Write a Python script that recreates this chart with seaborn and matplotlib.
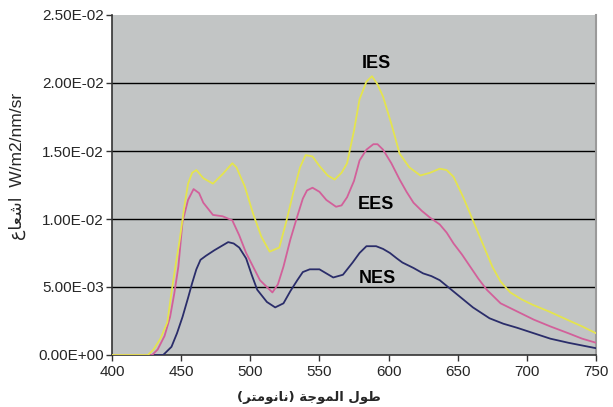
import numpy as np
import pandas as pd
import seaborn as sns
import matplotlib
matplotlib.use("Agg")
import matplotlib.pyplot as plt
from matplotlib.ticker import FuncFormatter

# Spectral radiance of three light sources (W/m2/nm/sr) against wavelength (nm)
ies_nm = [400, 426, 430, 435, 440, 443, 446, 449, 452, 455, 458, 461, 466, 473, 480, 487, 490,
          496, 502, 508, 514, 521, 526, 531, 536, 540, 545, 550, 556, 561, 566, 570, 575, 579,
          584, 588, 592, 596, 602, 608, 615, 623, 630, 637, 642, 647, 654, 661, 668, 675, 681,
          688, 696, 704, 716, 729, 740, 750]
ies_val = [0.0, 0.0, 0.0004, 0.0012, 0.0024, 0.0046, 0.0066, 0.0085, 0.0107, 0.0126, 0.0134,
           0.0136, 0.0130, 0.0126, 0.0133, 0.0141, 0.0138, 0.0124, 0.0104, 0.0087, 0.0076,
           0.0079, 0.0098, 0.0119, 0.0138, 0.0147, 0.0146, 0.0139, 0.0132, 0.0129, 0.0134,
           0.0141, 0.0165, 0.0188, 0.0201, 0.0205, 0.0199, 0.0190, 0.0170, 0.0148, 0.0138,
           0.0132, 0.0134, 0.0137, 0.0136, 0.0131, 0.0116, 0.0099, 0.0082, 0.0065, 0.0054,
           0.0046, 0.0041, 0.0037, 0.0032, 0.0026, 0.0021, 0.0016]

ees_nm = [400, 429, 433, 438, 442, 445, 448, 451, 455, 459, 463, 466, 473, 480, 487, 492, 497,
          502, 507, 512, 516, 520, 524, 529, 534, 538, 541, 545, 550, 555, 562, 566, 570, 575,
          579, 584, 589, 592, 596, 602, 608, 613, 618, 624, 630, 637, 642, 647, 653, 659, 665,
          671, 681, 695, 705, 717, 730, 740, 750]
ees_val = [0.0, 0.0, 0.0004, 0.0014, 0.0028, 0.0045, 0.0065, 0.0098, 0.0114, 0.0122, 0.0119,
           0.0112, 0.0103, 0.0102, 0.0099, 0.0088, 0.0075, 0.0065, 0.0055, 0.0050, 0.0046,
           0.0052, 0.0065, 0.0085, 0.0102, 0.0115, 0.0121, 0.0123, 0.0120, 0.0114, 0.0109,
           0.0110, 0.0116, 0.0128, 0.0143, 0.0151, 0.0155, 0.0155, 0.0151, 0.0141, 0.0129,
           0.0120, 0.0112, 0.0106, 0.0101, 0.0096, 0.0090, 0.0082, 0.0074, 0.0065, 0.0056,
           0.0048, 0.0038, 0.0031, 0.0026, 0.0021, 0.0016, 0.0012, 0.0009]

nes_nm = [400, 437, 443, 447, 451, 455, 458, 461, 464, 468, 474, 479, 484, 488, 492, 497, 501,
          505, 512, 518, 524, 529, 534, 538, 543, 550, 555, 560, 567, 574, 579, 584, 591, 596,
          601, 606, 610, 618, 625, 631, 637, 643, 649, 655, 661, 667, 673, 683, 693, 705, 717,
          730, 740, 750]
nes_val = [0.0, 0.0, 0.0006, 0.0016, 0.0028, 0.0042, 0.0053, 0.0063, 0.0070, 0.0073, 0.0077,
           0.0080, 0.0083, 0.0082, 0.0079, 0.0071, 0.0059, 0.0048, 0.0039, 0.0035, 0.0038,
           0.0047, 0.0055, 0.0061, 0.0063, 0.0063, 0.0060, 0.0057, 0.0059, 0.0068, 0.0075,
           0.0080, 0.0080, 0.0078, 0.0075, 0.0071, 0.0068, 0.0064, 0.0060, 0.0058, 0.0055,
           0.0050, 0.0045, 0.0040, 0.0035, 0.0031, 0.0027, 0.0023, 0.0020, 0.0016, 0.0012,
           0.0009, 0.0007, 0.0005]

series_names = ["IES", "EES", "NES"]
series_colors = ["#e4e44e", "#d2609a", "#2a2d6a"]
label_pos = [(591, 0.0214), (591, 0.0111), (592, 0.0056)]

x_ticks = [400, 450, 500, 550, 600, 650, 700, 750]
y_ticks = [0.0, 0.005, 0.010, 0.015, 0.020, 0.025]

# Arabic labels written in presentation forms, in display order
x_label = "(\ufeae\ufe98\ufee3\ufeee\ufee7\ufe8e\ufee7) \ufe94\ufe9f\ufeee\ufee4\ufedf\ufe8d \ufedd\ufeee\ufec3"
y_label = "\ufec9\ufe8e\ufecc\ufeb7\ufe8d  W/m2/nm/sr"

frames = []
for name, nm, val in zip(series_names,
                         [ies_nm, ees_nm, nes_nm],
                         [ies_val, ees_val, nes_val]):
    frames.append(pd.DataFrame({"nm": nm, "val": val, "src": name}))
df = pd.concat(frames, ignore_index=True)

sns.set_theme(style="white")
plt.rcParams["font.family"] = ["Liberation Sans", "DejaVu Sans"]

fig = plt.figure(figsize=(6.13, 4.07), dpi=100)
ax = fig.add_axes([112 / 613, 1 - 355 / 407, 484 / 613, 340 / 407])
ax.set_facecolor("#c2c5c5")

for y in y_ticks[1:-1]:
    ax.axhline(y, color="black", lw=1.0, zorder=1)

sns.lineplot(data=df, x="nm", y="val", hue="src", hue_order=series_names[::-1],
             palette=dict(zip(series_names, series_colors)), lw=1.3,
             legend=False, ax=ax, zorder=3)

for name, (lx, ly) in zip(series_names, label_pos):
    ax.text(lx, ly, name, ha="center", va="center", fontsize=13, fontweight="bold",
            color="black", zorder=4)

ax.set_xlim(400, 750)
ax.set_ylim(0, 0.025)
ax.set_xticks(x_ticks)
ax.set_yticks(y_ticks)
ax.yaxis.set_major_formatter(FuncFormatter(lambda v, p: "%.2E" % v))
ax.tick_params(axis="x", labelsize=11, length=4, width=1, color="#333333",
               direction="out", bottom=True, pad=3)
ax.tick_params(axis="y", labelsize=11, length=4, width=1, color="#333333",
               direction="out", left=True, pad=2)
ax.set_xlabel("")
ax.set_ylabel("")

for side in ["left", "bottom"]:
    ax.spines[side].set_color("#333333")
    ax.spines[side].set_linewidth(1.2)
ax.spines["top"].set_visible(False)
ax.spines["right"].set_color("#9a9a9a")
ax.spines["right"].set_linewidth(1.5)

fig.text(309 / 613, 1 - 397 / 407, x_label, ha="center", va="center", fontsize=9.5,
         fontweight="bold", family=["DejaVu Sans"])
fig.text(17 / 613, 1 - 166 / 407, y_label, ha="center", va="center", rotation=90,
         fontsize=12.5, family=["Liberation Sans", "DejaVu Sans"])

fig.savefig("out.png", dpi=100, facecolor="white")
